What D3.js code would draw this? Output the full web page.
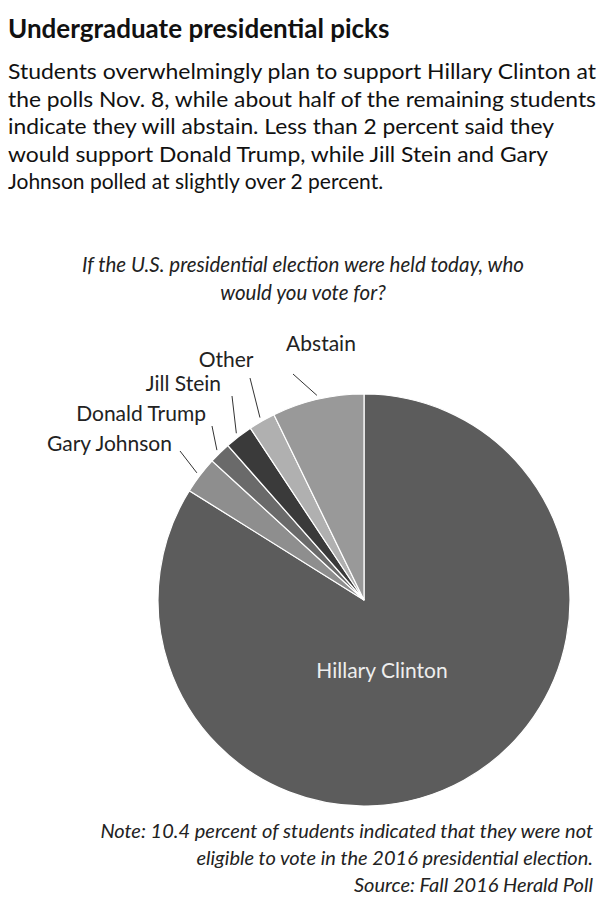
<!DOCTYPE html>
<html><head><meta charset="utf-8">
<script src="https://cdn.jsdelivr.net/npm/d3@7"></script>
<style>body{margin:0;background:#fff}svg{font-family:Lato,"Open Sans",sans-serif}</style>
</head><body><svg id="c" width="606" height="912"></svg>
<script>
const categories=["Hillary Clinton","Gary Johnson","Donald Trump","Jill Stein","Other","Abstain"];
const values=[83.9,2.9,1.7,2.2,2.1,7.2];
const colors=["#5c5c5c","#8e8e8e","#6a6a6a","#3a3a3a","#b0b0b0","#999999"];
const svg=d3.select("#c");
svg.append("text").attr("x",8).attr("y",38).attr("font-size",26).attr("font-weight",700).attr("fill","#111").text("Undergraduate presidential picks");
const body=["Students overwhelmingly plan to support Hillary Clinton at","the polls Nov. 8, while about half of the remaining students","indicate they will abstain. Less than 2 percent said they","would support Donald Trump, while Jill Stein and Gary","Johnson polled at slightly over 2 percent."];
const bodyLen=[588,588,546,540,null];
body.forEach((t,i)=>svg.append("text").attr("x",8).attr("y",79+i*27.5).attr("font-size",21).attr("fill","#111").attr("textLength",bodyLen[i]).attr("lengthAdjust","spacingAndGlyphs").text(t));
["If the U.S. presidential election were held today, who","would you vote for?"].forEach((t,i)=>svg.append("text").attr("x",303).attr("y",272+i*28).attr("text-anchor","middle").attr("font-size",20.5).attr("font-style","italic").attr("fill","#222").text(t));
const cx=364,cy=600,r=206;
const g=svg.append("g").attr("transform",`translate(${cx},${cy})`);
const pie=d3.pie().sort(null).value(d=>d)(values);
const arc=d3.arc().innerRadius(0).outerRadius(r);
g.selectAll("path").data(pie).join("path").attr("d",arc).attr("fill",(d,i)=>colors[i]).attr("stroke","#fff").attr("stroke-width",1.2);
const lab={1:{x:172,y:451,a:"end",lx:180,ly:451},2:{x:206,y:421,a:"end",lx:212,ly:426},3:{x:221,y:391,a:"end",lx:232,ly:396},4:{x:226,y:367,a:"middle",lx:250,ly:378},5:{x:321,y:351,a:"middle",lx:293,ly:374}};
pie.forEach((d,i)=>{if(!lab[i])return;const L=lab[i];const m=(d.startAngle+d.endAngle)/2;
const ex=cx+(r+4)*Math.sin(m),ey=cy-(r+4)*Math.cos(m);
svg.append("line").attr("x1",L.lx).attr("y1",L.ly).attr("x2",ex).attr("y2",ey).attr("stroke","#333").attr("stroke-width",1);
svg.append("text").attr("x",L.x).attr("y",L.y).attr("text-anchor",L.a).attr("font-size",21).attr("fill","#222").text(categories[i]);});
svg.append("text").attr("x",382).attr("y",678).attr("text-anchor","middle").attr("font-size",21).attr("fill","#eee").text(categories[0]);
["Note: 10.4 percent of students indicated that they were not","eligible to vote in the 2016 presidential election.","Source: Fall 2016 Herald Poll"].forEach((t,i)=>svg.append("text").attr("x",593).attr("y",838+i*27).attr("text-anchor","end").attr("font-size",20).attr("font-style","italic").attr("fill","#222").text(t));
</script></body></html>
